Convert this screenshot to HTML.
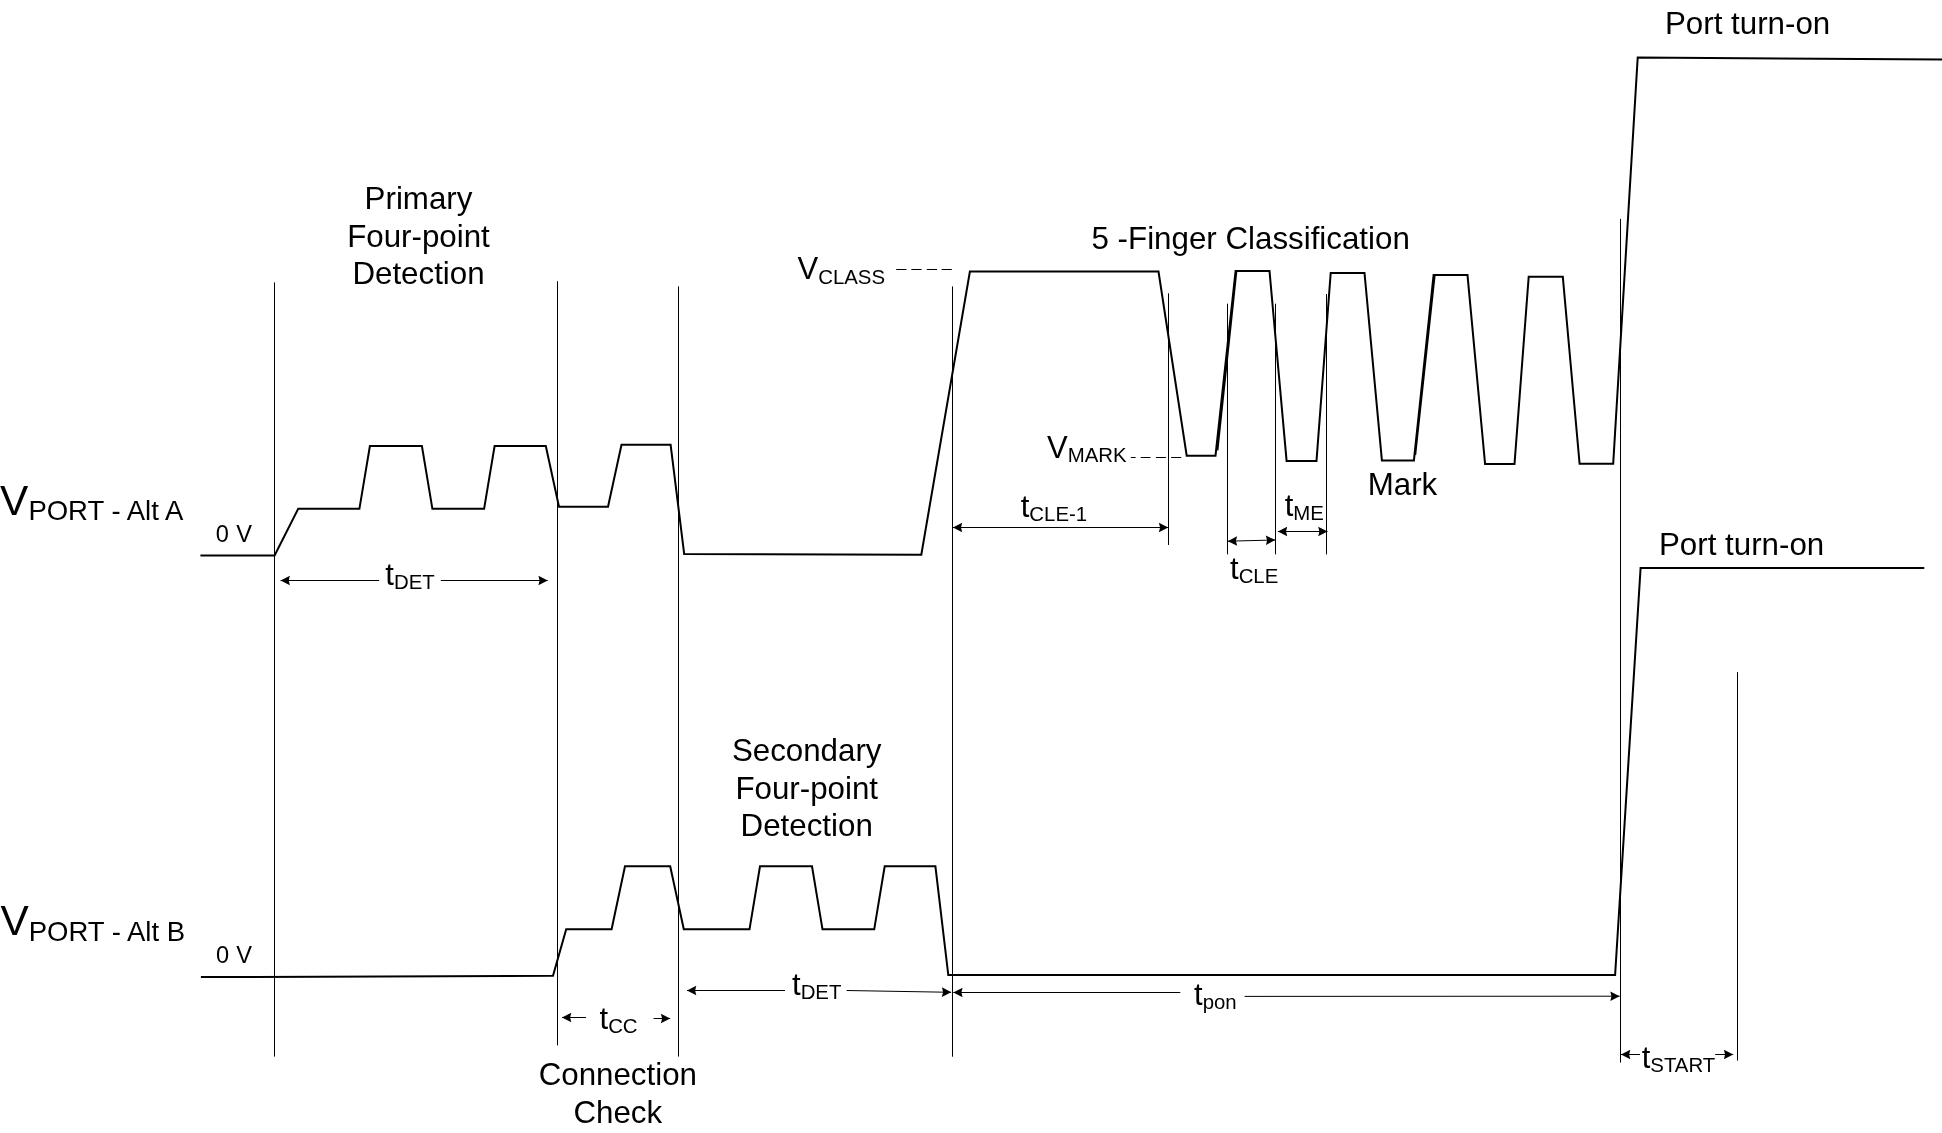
<!DOCTYPE html>
<html lang="en">
<head>
<meta charset="utf-8">
<title>PoE Detection and Classification Timing Diagram</title>
<style>
html,body{margin:0;padding:0;background:#fff;}
body{width:1942px;height:1133px;overflow:hidden;}
svg{display:block;will-change:transform;}
text{font-family:"Liberation Sans", sans-serif;fill:#000;}
</style>
</head>
<body>
<svg width="1942" height="1133" viewBox="0 0 1942 1133">
<rect x="0" y="0" width="1942" height="1133" fill="#fff"/>
<line x1="274.5" y1="282.4" x2="274.5" y2="1056.6" stroke="#000" stroke-width="1" />
<line x1="557.5" y1="281.2" x2="557.5" y2="1045.4" stroke="#000" stroke-width="1" />
<line x1="678.5" y1="286.4" x2="678.5" y2="1056.6" stroke="#000" stroke-width="1" />
<line x1="952.5" y1="286.4" x2="952.5" y2="1056.7" stroke="#000" stroke-width="1" />
<line x1="1168.5" y1="293.3" x2="1168.5" y2="545.0" stroke="#000" stroke-width="1" />
<line x1="1227.5" y1="303.7" x2="1227.5" y2="554.4" stroke="#000" stroke-width="1" />
<line x1="1275.5" y1="303.7" x2="1275.5" y2="554.4" stroke="#000" stroke-width="1" />
<line x1="1326.5" y1="294.0" x2="1326.5" y2="554.4" stroke="#000" stroke-width="1" />
<line x1="1620.5" y1="218.9" x2="1620.5" y2="1062.6" stroke="#000" stroke-width="1" />
<line x1="1737.5" y1="672.1" x2="1737.5" y2="1060.6" stroke="#000" stroke-width="1" />
<polyline fill="none" stroke="#000" stroke-width="2" stroke-linejoin="miter" stroke-linecap="butt" points="200.4,555.4 274.6,555.4 298.2,508.8 359.4,508.8 369.9,446.0 421.9,446.0 432.4,508.8 484.1,508.8 494.6,446.0 545.8,446.0 559.0,506.7 608.0,506.7 621.5,444.7 670.6,444.7 684.2,554.0 921.3,554.7 969.9,271.5 1158.5,271.5 1186.7,455.7 1215.5,455.7 1235.6,270.9 1269.5,270.9 1286.6,460.9 1316.5,460.9 1330.7,273.0 1364.5,273.0 1381.9,460.4 1413.9,460.4 1433.6,275.1 1467.5,275.1 1485.1,464.1 1514.5,464.1 1528.7,276.7 1562.8,276.7 1579.6,463.8 1613.2,463.8 1637.7,57.4 1943.0,59.6"/>
<polyline fill="none" stroke="#000" stroke-width="2" stroke-linejoin="miter" stroke-linecap="butt" points="200.9,977.1 553.0,975.8 566.2,929.3 611.6,929.3 625.0,866.3 670.2,866.3 683.8,929.3 749.5,929.3 760.0,866.3 812.0,866.3 822.5,929.3 874.2,929.3 884.7,866.3 935.4,866.3 948.3,975.0 1615.1,975.0 1640.6,567.9 1924.3,567.9"/>
<polyline fill="none" stroke="#000" stroke-width="2" stroke-linejoin="miter" stroke-linecap="butt" points="1217.4,450.3 1236.4,270.9"/>
<polyline fill="none" stroke="#000" stroke-width="2" stroke-linejoin="miter" stroke-linecap="butt" points="1415.2,455.0 1434.7,274.6"/>
<line x1="896.2" y1="269.5" x2="906.5" y2="269.5" stroke="#000" stroke-width="1" />
<line x1="911.3" y1="269.5" x2="921.6" y2="269.5" stroke="#000" stroke-width="1" />
<line x1="926.8" y1="269.5" x2="937.1" y2="269.5" stroke="#000" stroke-width="1" />
<line x1="941.7" y1="269.5" x2="951.8" y2="269.5" stroke="#000" stroke-width="1" />
<line x1="1130.9" y1="457.5" x2="1135.6" y2="457.5" stroke="#000" stroke-width="1" />
<line x1="1140.7" y1="457.5" x2="1150.5" y2="457.5" stroke="#000" stroke-width="1" />
<line x1="1155.9" y1="457.5" x2="1165.9" y2="457.5" stroke="#000" stroke-width="1" />
<line x1="1171.1" y1="457.5" x2="1181.2" y2="457.5" stroke="#000" stroke-width="1" />
<line x1="379.1" y1="580.5" x2="280.6" y2="580.5" stroke="#000" stroke-width="1" /><polygon fill="#000" points="280.6,580.5 289.9,575.7 288.7,580.5 289.9,585.3"/>
<line x1="440.8" y1="580.5" x2="547.7" y2="580.5" stroke="#000" stroke-width="1" /><polygon fill="#000" points="547.7,580.5 538.4,585.3 539.6,580.5 538.4,575.7"/>
<line x1="952.9" y1="527.5" x2="1168.2" y2="527.5" stroke="#000" stroke-width="1" /><polygon fill="#000" points="1168.2,527.5 1158.9,532.3 1160.1,527.5 1158.9,522.7"/><polygon fill="#000" points="952.9,527.5 962.2,522.7 961.0,527.5 962.2,532.3"/>
<line x1="1227.8" y1="541.2" x2="1275.2" y2="540.0" stroke="#000" stroke-width="1" /><polygon fill="#000" points="1275.2,540.0 1266.0,545.0 1267.1,540.2 1265.8,535.4"/><polygon fill="#000" points="1227.8,541.2 1237.0,536.2 1235.9,541.0 1237.2,545.8"/>
<line x1="1277.9" y1="531.5" x2="1327.5" y2="531.5" stroke="#000" stroke-width="1" /><polygon fill="#000" points="1327.5,531.5 1318.2,536.3 1319.4,531.5 1318.2,526.7"/><polygon fill="#000" points="1277.9,531.5 1287.2,526.7 1286.0,531.5 1287.2,536.3"/>
<line x1="586.1" y1="1017.5" x2="562.0" y2="1017.5" stroke="#000" stroke-width="1" /><polygon fill="#000" points="562.0,1017.5 571.3,1012.7 570.1,1017.5 571.3,1022.3"/>
<line x1="653.6" y1="1018.5" x2="670.2" y2="1018.5" stroke="#000" stroke-width="1" /><polygon fill="#000" points="670.2,1018.5 660.9,1023.3 662.1,1018.5 660.9,1013.7"/>
<line x1="785.0" y1="990.5" x2="687.0" y2="990.5" stroke="#000" stroke-width="1" /><polygon fill="#000" points="687.0,990.5 696.3,985.7 695.1,990.5 696.3,995.3"/>
<line x1="846.6" y1="990.5" x2="951.2" y2="992.3" stroke="#000" stroke-width="1" /><polygon fill="#000" points="951.2,992.3 941.8,996.9 943.1,992.2 942.0,987.3"/>
<line x1="1180.3" y1="992.5" x2="953.3" y2="992.5" stroke="#000" stroke-width="1" /><polygon fill="#000" points="953.3,992.5 962.6,987.7 961.4,992.5 962.6,997.3"/>
<line x1="1244.6" y1="996.4" x2="1619.6" y2="996.2" stroke="#000" stroke-width="1" /><polygon fill="#000" points="1619.6,996.2 1610.3,1001.0 1611.5,996.2 1610.3,991.4"/>
<line x1="1640.0" y1="1054.5" x2="1621.0" y2="1054.5" stroke="#000" stroke-width="1" /><polygon fill="#000" points="1621.0,1054.5 1630.3,1049.7 1629.1,1054.5 1630.3,1059.3"/>
<line x1="1715.2" y1="1054.5" x2="1733.2" y2="1054.5" stroke="#000" stroke-width="1" /><polygon fill="#000" points="1733.2,1054.5 1723.9,1059.3 1725.1,1054.5 1723.9,1049.7"/>
<text x="1665.0" y="33.8" font-size="31.3" text-anchor="start">Port turn-on</text>
<text x="1659.0" y="554.7" font-size="31.3" text-anchor="start">Port turn-on</text>
<text x="418.5" y="209.4" font-size="31.3" text-anchor="middle">Primary</text>
<text x="418.5" y="246.7" font-size="31.3" text-anchor="middle">Four-point</text>
<text x="418.5" y="284.2" font-size="31.3" text-anchor="middle">Detection</text>
<text x="806.7" y="761.1" font-size="31.3" text-anchor="middle">Secondary</text>
<text x="806.7" y="798.7" font-size="31.3" text-anchor="middle">Four-point</text>
<text x="806.7" y="836.4" font-size="31.3" text-anchor="middle">Detection</text>
<text x="617.8" y="1084.7" font-size="31.3" text-anchor="middle">Connection</text>
<text x="617.8" y="1123.1" font-size="31.3" text-anchor="middle">Check</text>
<text x="1091.5" y="248.5" font-size="31.3" text-anchor="start">5 -Finger Classification</text>
<text x="1367.7" y="494.6" font-size="31.3" text-anchor="start">Mark</text>
<text x="797.5" y="279.2" font-size="31">V<tspan font-size="20.4" dy="4.3">CLASS</tspan></text>
<text x="1047.0" y="457.9" font-size="31">V<tspan font-size="20.4" dy="4">MARK</tspan></text>
<text x="1020.7" y="517.0" font-size="31">t<tspan font-size="20.4" dy="4">CLE-1</tspan></text>
<text x="1284.7" y="516.2" font-size="31">t<tspan font-size="20.4" dy="4">ME</tspan></text>
<text x="1230.0" y="578.6" font-size="31">t<tspan font-size="20.4" dy="4">CLE</tspan></text>
<text x="385.3" y="584.9" font-size="31">t<tspan font-size="20.4" dy="4">DET</tspan></text>
<text x="792.0" y="994.9" font-size="31">t<tspan font-size="20.4" dy="4">DET</tspan></text>
<text x="1194.0" y="1005.0" font-size="31">t<tspan font-size="20.4" dy="4">pon</tspan></text>
<text x="599.5" y="1029.1" font-size="31">t<tspan font-size="20.4" dy="4">CC</tspan></text>
<text x="1641.7" y="1067.9" font-size="31">t<tspan font-size="20.4" dy="4">START</tspan></text>
<text x="0.1" y="514.7" font-size="42.4">V<tspan font-size="27.5" dy="5.6">PORT - Alt A</tspan></text>
<text x="0.4" y="935.4" font-size="42.4">V<tspan font-size="27.5" dy="6.0">PORT - Alt B</tspan></text>
<text x="215.8" y="541.6" font-size="23.6" text-anchor="start" word-spacing="0.8">0 V</text>
<text x="215.9" y="962.9" font-size="23.6" text-anchor="start" word-spacing="0.8">0 V</text>
</svg>
</body>
</html>
